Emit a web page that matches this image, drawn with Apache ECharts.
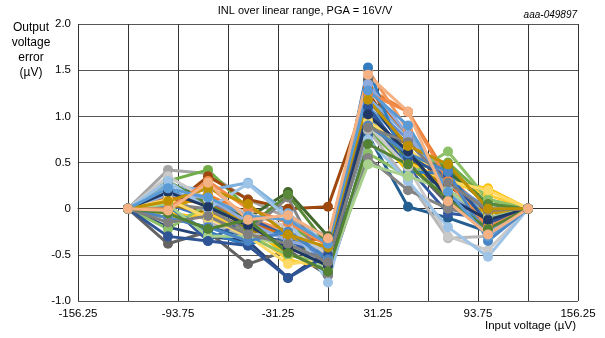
<!DOCTYPE html>
<html>
<head>
<meta charset="utf-8">
<script src="https://cdn.jsdelivr.net/npm/echarts@6/dist/echarts.min.js"></script>
<style>html,body{margin:0;padding:0;background:#fff}#c{width:605px;height:338px}</style>
</head>
<body>
<div id="c"></div>
<script>
// Input voltage (µV) at which each series is sampled
const xValues = [-125, -100, -75, -50, -25, 0, 25, 50, 75, 100, 125];
const xTickLabels = ['-156.25', '-93.75', '-31.25', '31.25', '93.75', '156.25'];
const yTickLabels = ['-1.0', '-0.5', '0', '0.5', '1.0', '1.5', '2.0'];

// Output voltage error (µV), one array per measured device
const s01 = [0, 0.05, -0.10, -0.25, -0.40, -0.55, 1.05, 0.55, 0.20, -0.10, 0];
const s02 = [0, 0.10, 0.15, -0.05, -0.20, -0.35, 1.30, 1.05, 0.35, -0.05, 0];
const s03 = [0, 0.42, 0.38, 0.10, -0.10, -0.30, 0.95, 0.50, 0.15, -0.20, 0];
const s04 = [0, -0.05, -0.10, -0.20, -0.50, -0.60, 0.90, 0.40, 0.30, 0.22, 0];
const s05 = [0, 0.20, 0.05, -0.15, -0.30, -0.45, 1.10, 0.70, 0.40, 0.05, 0];
const s06 = [0, 0.30, 0.42, 0.00, -0.15, -0.50, 0.85, 0.45, 0.50, 0.10, 0];
const s07 = [0, -0.20, -0.30, -0.35, -0.75, -0.45, 1.20, 0.60, 0.10, -0.15, 0];
const s08 = [0, 0.00, 0.35, 0.10, 0.00, 0.02, 1.25, 0.65, 0.25, -0.05, 0];
const s09 = [0, -0.38, -0.25, -0.60, -0.45, -0.72, 1.40, 0.50, 0.05, -0.20, 0];
const s10 = [0, 0.05, -0.05, -0.20, -0.45, -0.40, 0.95, 0.55, 0.20, -0.10, 0];
const s11 = [0, -0.10, -0.20, -0.30, -0.35, -0.50, 0.80, 0.02, -0.10, -0.25, 0];
const s12 = [0, 0.28, 0.10, -0.10, 0.18, -0.30, 0.90, 0.60, 0.40, 0.05, 0];
const s13 = [0, 0.15, 0.10, -0.20, -0.30, -0.55, 1.15, 0.75, 0.30, 0.00, 0];
const s14 = [0, 0.00, 0.25, -0.10, -0.25, -0.50, 1.50, 0.85, 0.15, -0.25, 0];
const s15 = [0, 0.20, -0.15, -0.30, -0.20, -0.55, 0.85, 0.30, -0.32, -0.30, 0];
const s16 = [0, -0.10, -0.05, -0.25, -0.55, -0.65, 1.00, 0.50, 0.30, 0.15, 0];
const s17 = [0, 0.25, 0.20, 0.28, -0.05, -0.40, 1.20, 0.80, 0.35, -0.10, 0];
const s18 = [0, -0.22, 0.05, -0.30, -0.50, -0.60, 0.60, 0.35, 0.62, 0.10, 0];
const s19 = [0, 0.05, -0.35, -0.10, -0.30, -0.70, 1.00, 0.45, -0.05, -0.10, 0];
const s20 = [0, 0.12, 0.05, -0.15, -0.30, -0.35, 1.30, 0.80, 0.20, -0.15, 0];
const s21 = [0, 0.05, 0.00, -0.25, 0.12, -0.72, 0.55, 0.20, 0.00, -0.10, 0];
const s22 = [0, 0.00, 0.15, -0.20, -0.30, -0.45, 0.90, 0.60, 0.15, -0.05, 0];
const s23 = [0, 0.02, -0.25, -0.40, -0.20, -0.55, 1.53, 0.40, 0.38, -0.15, 0];
const s24 = [0, 0.30, 0.05, -0.20, 0.15, -0.40, 0.95, 0.55, 0.45, 0.05, 0];
const s25 = [0, 0.15, 0.12, -0.15, -0.35, -0.45, 1.35, 0.80, 0.22, -0.25, 0];
const s26 = [0, 0.35, 0.10, -0.05, -0.20, -0.50, 0.90, 0.45, -0.30, -0.45, 0];
const s27 = [0, 0.10, -0.10, -0.30, -0.60, -0.55, 0.95, 0.65, 0.30, 0.20, 0];
const s28 = [0, 0.30, 0.00, 0.27, -0.10, -0.80, 0.75, 0.30, -0.20, -0.52, 0];
const s29 = [0, 0.05, -0.30, -0.30, -0.40, -0.65, 0.48, 0.35, 0.20, -0.10, 0];
const s30 = [0, -0.30, -0.35, -0.40, -0.75, -0.50, 1.10, 0.55, 0.35, -0.15, 0];
const s31 = [0, 0.00, 0.30, 0.00, -0.15, -0.40, 1.25, 1.05, 0.30, -0.20, 0];
const s32 = [0, -0.10, -0.20, -0.35, -0.25, -0.55, 0.90, 0.60, 0.40, -0.35, 0];
const s33 = [0, 0.18, 0.02, -0.18, -0.42, -0.62, 1.02, 0.62, 0.12, -0.12, 0];
const s34 = [0, -0.15, -0.08, -0.28, -0.38, -0.58, 0.88, 0.72, 0.28, -0.02, 0];
const s35 = [0, 0.08, 0.22, 0.05, -0.28, -0.42, 1.18, 0.68, 0.48, 0.00, 0];
const s36 = [0, -0.05, -0.22, -0.12, -0.48, -0.68, 0.70, 0.48, 0.10, -0.22, 0];
const s37 = [0, 0.22, 0.12, -0.08, -0.12, -0.38, 1.28, 0.90, 0.18, -0.30, 0];
const s38 = [0, -0.02, 0.28, -0.12, -0.07, -0.32, 1.45, 1.05, 0.08, -0.28, 0];

const seriesValues = [s01,s02,s03,s04,s05,s06,s07,s08,s09,s10,s11,s12,s13,s14,s15,s16,s17,
  s18,s19,s20,s21,s22,s23,s24,s25,s26,s27,s28,s29,s30,s31,s32,s33,s34,s35,s36,s37,s38];
const colors = ['#4472C4','#ED7D31','#A5A5A5','#FFC000','#5B9BD5','#70AD47','#264478','#9E480E',
  '#636363','#997300','#255E91','#43682B','#698ED0','#F1975A','#B7B7B7','#FFCD33','#7CAFDD',
  '#8CC168','#335AA1','#D26012','#848484','#CC9A00','#327DC2','#5A8A39','#8FAADC','#C9C9C9',
  '#FFD966','#9DC3E6','#A9D18E','#2F5597','#F08A4B','#4A86C5','#203864','#7F7F7F','#BF9000',
  '#548235','#5B9BD5','#F4B183'];

const font = 'Liberation Sans, Arial, sans-serif';
const chart = echarts.init(document.getElementById('c'), null, {renderer: 'canvas'});
chart.setOption({
  animation: false,
  backgroundColor: '#fff',
  color: colors,
  title: {
    text: 'INL over linear range, PGA = 16V/V',
    left: 300, textAlign: 'center', top: 0,
    textStyle: {fontFamily: font, fontSize: 11, fontWeight: 'normal', color: '#000'}
  },
  graphic: [
    {type: 'text', right: 28, top: 10, style: {text: 'aaa-049897', font: 'italic 10px ' + font, fill: '#000'}},
    {type: 'text', x: 31, y: 20, style: {text: 'Output\nvoltage\nerror\n(µV)', font: '12px ' + font, fill: '#000', align: 'center', lineHeight: 15}},
    {type: 'text', right: 29, top: 320, style: {text: 'Input voltage (µV)', font: '11.5px ' + font, fill: '#000'}}
  ],
  grid: {left: 78, right: 27, top: 24, bottom: 37},
  xAxis: {
    type: 'value', min: -156.25, max: 156.25, interval: 31.25,
    axisLine: {show: true, lineStyle: {color: '#333', width: 1}},
    axisTick: {show: false},
    splitLine: {show: true, lineStyle: {color: '#333', width: 1}},
    axisLabel: {
      fontFamily: font, fontSize: 11.5, color: '#000', margin: 7,
      formatter: v => { const t = v.toFixed(2); return xTickLabels.includes(t) ? t : ''; }
    }
  },
  yAxis: {
    type: 'value', min: -1, max: 2, interval: 0.5,
    axisLine: {show: true, lineStyle: {color: '#333', width: 1}},
    axisTick: {show: false},
    splitLine: {show: true, lineStyle: {color: '#555', width: 1}},
    axisLabel: {
      fontFamily: font, fontSize: 11.5, color: '#000', margin: 7,
      formatter: v => { const t = v === 0 ? '0' : v.toFixed(1); return yTickLabels.includes(t) ? t : ''; }
    }
  },
  series: seriesValues.map((vals, i) => ({
    type: 'line',
    data: vals.map((y, k) => [xValues[k], y]),
    symbol: 'circle', symbolSize: 10, showSymbol: true,
    lineStyle: {width: 3, color: colors[i]},
    itemStyle: {color: colors[i]},
    z: 2
  }))
});
</script>
</body>
</html>
